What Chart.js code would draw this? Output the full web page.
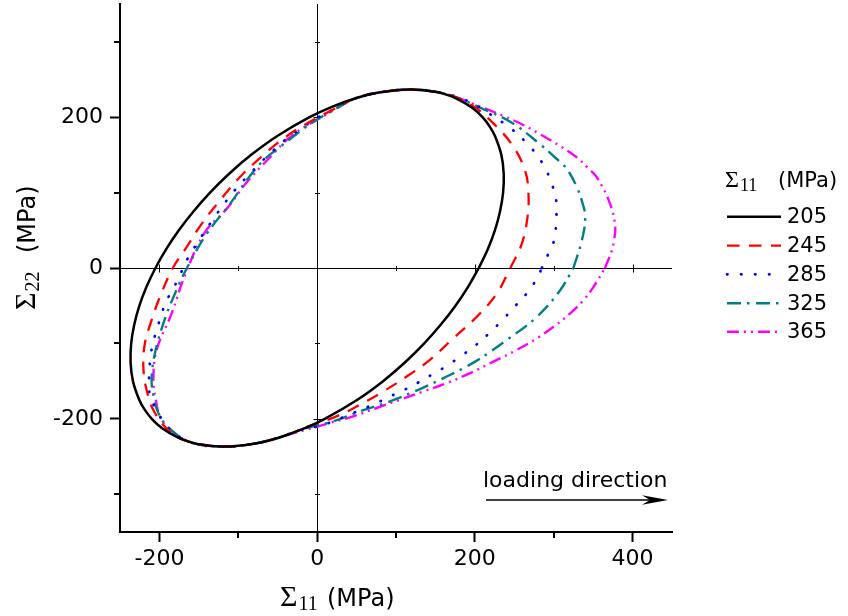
<!DOCTYPE html>
<html><head><meta charset="utf-8">
<script src="https://cdn.jsdelivr.net/npm/chart.js@4.4.1/dist/chart.umd.min.js"></script>
<style>html,body{margin:0;padding:0;background:#fff}#wrap{width:848px;height:616px}</style>
</head><body><div id="wrap"><canvas id="c" width="848" height="616"></canvas></div>
<script>
// ---- axis ranges & ticks ----
const xRange = [-250, 450];
const yRange = [-350, 350];
const xMajorTicks = [-200, 0, 200, 400];
const xMinorTicks = [-100, 100, 300];
const yMajorTicks = [-200, 0, 200];
const yMinorTicks = [-300, -100, 100, 300];
const xTickLabels = ['-200', '0', '200', '400'];
const yTickLabels = ['-200', '0', '200'];
const seriesLabels = ['205', '245', '285', '325', '365'];

// ---- series (Σ11, Σ22) in MPa ----
const x205 = [205,216.4,225.4,231.9,235.8,236.6,233.6,225.5,218.9,209.7,196.6,176.2,160.3,150,118.3,80,48.8,18,-9.7,-50.5,-83.6,-111.6,-135.8,-156.9,-175.4,-191.4,-205,-216.4,-225.4,-231.9,-235.8,-236.6,-233.6,-225.5,-218.9,-209.7,-196.6,-176.2,-160.3,-150,-118.3,-80,-48.8,-18,9.7,50.5,83.6,111.6,135.8,156.9,175.4,191.4,205];
const y205 = [0,25,50,75,100,125,150,175,187.5,200,212.5,225,231,233.6,236.7,232.9,225,213.4,200,175,150,125,100,75,50,25,0,-25,-50,-75,-100,-125,-150,-175,-187.5,-200,-212.5,-225,-231,-233.6,-236.7,-232.9,-225,-213.4,-200,-175,-150,-125,-100,-75,-50,-25,0];

const x245 = [245,259.5,266.7,268,263.7,246.8,219.3,198,172,150,118.3,80,48.8,18.3,-13.5,-41,-70.6,-100.3,-125.2,-146.4,-165.5,-183,-199.4,-209.9,-218.4,-220.4,-216.3,-205.7,-184.5,-160,-118.3,-80,-48.8,-25,-5,24.6,54.2,83.8,113.5,143,172.7,202.4,227.8,245];
const y245 = [0,32,67,98,129,164,196,214.5,228,233.6,236.7,232.9,225,209,191.4,173,147.5,118,87,58.6,27.7,0,-38.3,-69,-99.8,-130.7,-161.5,-192.2,-218.6,-231.1,-236.7,-232.9,-225,-216,-207.7,-196.7,-181.3,-163.7,-143.9,-121.8,-93.2,-64.7,-33.8,0];

const x285 = [285,293.3,300.6,303.5,302.7,297.6,290.4,279.4,265,246.8,213,185,150,118.3,80,48.8,20,-2.9,-18.5,-36.8,-53.7,-72.8,-89.7,-103.2,-131.6,-165.5,-174,-182.4,-192,-198,-203.5,-208.6,-211.6,-212.8,-213.3,-210.8,-201,-190.9,-160,-118.3,-80,-48.8,-25,5.6,22.5,40.3,57.7,75.4,92.3,110.5,128.3,146.5,164.3,182.5,200.3,218,234.9,251,266.7,278.6,285];
const y285 = [0,19,37.5,70,92.9,111.4,129.9,148.8,166.3,184,208,224,233.6,236.7,232.9,225,210,197.2,186,173,157.6,138.6,120,104.8,65.2,10.2,-9.6,-27.2,-45.5,-63.8,-82.2,-101,-120.5,-140,-157,-173.5,-193,-209.9,-231.1,-236.7,-232.9,-225,-216,-208.6,-202.4,-194.5,-187,-179,-170.3,-161.5,-151.8,-140.8,-129.8,-116.6,-103,-86.6,-69,-50.6,-32.5,-14,0];

const x325 = [325,335.7,340,336.5,329.4,316.7,301.8,285,246.8,206.6,175,150,118.3,80,48.8,20,-3,-15.6,-45.2,-68.6,-89.7,-110.5,-140,-163.3,-180.3,-195,-205.7,-209.9,-207,-201.4,-188,-160,-118.3,-80,-48.8,-25,-5,20.3,54.2,92.3,128.3,164.3,200.3,240.5,278.6,308.2,325];
const y325 = [0,36.6,67.3,86,107,131.2,146.5,162,192.7,212.5,227,233.6,236.7,232.9,225,209,195,186,162,142.2,115.8,85,45.4,3.6,-33.8,-73.4,-113,-148.2,-172,-192.2,-212,-231.1,-236.7,-232.9,-225,-216,-209.9,-203.3,-190.1,-176.9,-161.5,-143.9,-124.1,-95.4,-64.7,-29.4,0];

const x365 = [365,373.8,376,378,371.5,354.8,342,329.4,308,282.8,259.5,236.2,193.9,170,150,118.3,80,48.8,12,-32.5,-60,-89,-114.7,-142.2,-167.6,-184.5,-203.5,-207.7,-205,-199.4,-188,-160,-118.3,-80,-48.8,-30,-13.5,16.1,45.7,75.4,105,134.6,164.3,193.9,223.5,253.2,278.6,299.7,320.9,337.8,350.5,365];
const y365 = [0,23.4,34.3,54,85,120.1,134,146.5,161.7,177.4,190.6,201.6,219.1,228.5,233.6,236.7,232.9,225,203.8,175.2,146.5,114,78.4,47.5,-9.6,-60.2,-108.6,-148.2,-172,-196.7,-213,-231.1,-236.7,-232.9,-225,-219,-214.3,-205.4,-196.7,-185.6,-174.7,-163.7,-152.6,-139.4,-124.1,-108.6,-93.2,-77.9,-60.2,-42.6,-25,0];

// ---- styles ----
const lineColors = ['#000000', '#ff0000', '#0000ff', '#008080', '#ff00ff'];
const lineDashes = [[], [12.5, 9.5], [0.5, 13.5], [14, 6, 2.5, 6.5], [12, 5, 2, 5, 2, 5]];
const lineWidths = [2.5, 2.3, 2.7, 2.4, 2.4];
const lineCaps = ['butt', 'butt', 'round', 'butt', 'butt'];

const xs = [x205, x245, x285, x325, x365];
const ys = [y205, y245, y285, y325, y365];
const toPts = (a, b) => a.map((v, i) => ({ x: v, y: b[i] }));

const datasets = seriesLabels.map((lab, i) => ({
  label: lab,
  data: toPts(xs[i], ys[i]),
  showLine: true,
  fill: false,
  pointRadius: 0,
  borderColor: lineColors[i],
  borderWidth: lineWidths[i],
  borderDash: lineDashes[i],
  borderCapStyle: lineCaps[i],
  tension: 0.4
}));

const SANS = '"DejaVu Sans", "Liberation Sans", sans-serif';
const SERIF = '"Liberation Serif", "DejaVu Serif", serif';

function sigmaText(ctx, x, base, sub, sS, subS, tS, textX, subDrop) {
  ctx.font = sS + 'px ' + SERIF;
  ctx.fillText('\u03A3', x, base);
  const w = ctx.measureText('\u03A3').width;
  ctx.font = subS + 'px ' + SERIF;
  ctx.fillText(sub, x + w + 1, base + subDrop);
  ctx.font = tS + 'px ' + SANS;
  ctx.fillText('(MPa)', textX, base);
}

const decor = {
  id: 'decor',
  beforeDatasetsDraw(chart) {
    const { ctx, chartArea: ca, scales: { x, y } } = chart;
    const px0 = Math.round(x.getPixelForValue(0)) + 0.5;
    const py0 = Math.round(y.getPixelForValue(0)) + 0.5;
    ctx.save();
    ctx.strokeStyle = '#000';
    ctx.lineWidth = 1;
    ctx.beginPath();
    ctx.moveTo(px0, ca.top); ctx.lineTo(px0, ca.bottom);
    ctx.moveTo(ca.left, py0); ctx.lineTo(ca.right, py0);
    yMajorTicks.concat(yMinorTicks).forEach(v => {
      if (v === 0) return;
      const h = yMajorTicks.includes(v) ? 4 : 2.5;
      const p = Math.round(y.getPixelForValue(v)) + 0.5;
      ctx.moveTo(px0 - h, p); ctx.lineTo(px0 + h, p);
    });
    xMajorTicks.concat(xMinorTicks).forEach(v => {
      if (v === 0) return;
      const h = xMajorTicks.includes(v) ? 4 : 2.5;
      const p = Math.round(x.getPixelForValue(v)) + 0.5;
      ctx.moveTo(p, py0 - h); ctx.lineTo(p, py0 + h);
    });
    ctx.stroke();
    ctx.restore();
  },
  afterDraw(chart) {
    const { ctx, chartArea: ca, scales: { x, y } } = chart;
    ctx.save();
    ctx.strokeStyle = '#000';
    ctx.lineWidth = 2;
    ctx.beginPath();
    xMinorTicks.forEach(v => {
      const p = Math.round(x.getPixelForValue(v));
      ctx.moveTo(p, ca.bottom); ctx.lineTo(p, ca.bottom + 6);
    });
    yMinorTicks.forEach(v => {
      const p = Math.round(y.getPixelForValue(v));
      ctx.moveTo(ca.left - 6, p); ctx.lineTo(ca.left, p);
    });
    ctx.stroke();

    ctx.fillStyle = '#000';
    ctx.textAlign = 'left';
    ctx.textBaseline = 'alphabetic';
    sigmaText(ctx, 280, 606, '11', 30, 20, 24, 327, 4);
    ctx.save();
    ctx.translate(35, 310);
    ctx.rotate(-Math.PI / 2);
    sigmaText(ctx, 0, 0, '22', 30, 20, 24, 57, 4);
    ctx.restore();

    sigmaText(ctx, 725, 187, '11', 24, 18, 21, 778, 4);
    const rows = [216.7, 245.7, 274.3, 303.3, 331.7];
    chart.data.datasets.forEach((ds, i) => {
      const ry = rows[i];
      ctx.save();
      ctx.strokeStyle = ds.borderColor;
      ctx.lineWidth = ds.borderWidth;
      ctx.setLineDash(ds.borderDash);
      ctx.lineCap = ds.borderCapStyle;
      ctx.beginPath();
      ctx.moveTo(727, ry); ctx.lineTo(781, ry);
      ctx.stroke();
      ctx.restore();
      ctx.font = '21px ' + SANS;
      ctx.textBaseline = 'middle';
      ctx.fillText(ds.label, 787, ry + 1);
      ctx.textBaseline = 'alphabetic';
    });

    ctx.font = '22px ' + SANS;
    ctx.fillText('loading direction', 483, 487);
    ctx.strokeStyle = '#000';
    ctx.lineWidth = 1.5;
    ctx.beginPath();
    ctx.moveTo(486, 500); ctx.lineTo(655, 500);
    ctx.stroke();
    ctx.beginPath();
    ctx.moveTo(668, 500);
    ctx.lineTo(642, 495.2);
    ctx.lineTo(650, 500);
    ctx.lineTo(642, 504.8);
    ctx.closePath();
    ctx.fill();
    ctx.restore();
  }
};

new Chart(document.getElementById('c'), {
  type: 'scatter',
  data: { datasets },
  options: {
    responsive: false,
    animation: false,
    devicePixelRatio: 1,
    layout: { padding: { left: 0, right: 176, top: 4, bottom: 0 } },
    plugins: { legend: { display: false }, tooltip: { enabled: false } },
    scales: {
      x: {
        type: 'linear', min: xRange[0], max: xRange[1],
        afterBuildTicks: s => { s.ticks = xMajorTicks.map(v => ({ value: v })); },
        afterFit: s => { s.height = 84; s.paddingLeft = 0; s.paddingRight = 0; },
        ticks: { autoSkip: false, maxRotation: 0, padding: 4, color: '#000',
                 font: { family: SANS, size: 22 }, callback: (v, i) => xTickLabels[i] },
        grid: { drawOnChartArea: false, tickLength: 10, tickWidth: 2, tickColor: '#000' },
        border: { color: '#000', width: 2 }
      },
      y: {
        type: 'linear', min: yRange[0], max: yRange[1],
        afterBuildTicks: s => { s.ticks = yMajorTicks.map(v => ({ value: v })); },
        afterFit: s => { s.width = 120; s.paddingTop = 0; s.paddingBottom = 0; },
        ticks: { autoSkip: false, padding: 7, color: '#000',
                 font: { family: SANS, size: 22 }, callback: (v, i) => yTickLabels[i] },
        grid: { drawOnChartArea: false, tickLength: 10, tickWidth: 2, tickColor: '#000' },
        border: { color: '#000', width: 2 }
      }
    }
  },
  plugins: [decor]
});
</script>
</body></html>
